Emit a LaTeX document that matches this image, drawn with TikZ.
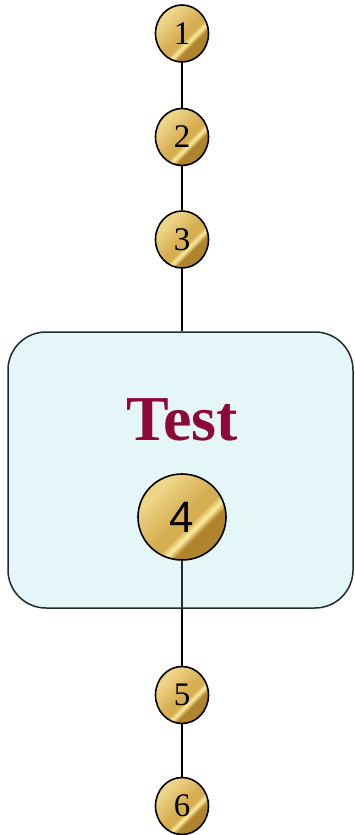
\documentclass[tikz,border=0pt]{standalone}
\usepackage{fontspec}
\setmainfont{Liberation Serif}
\newfontfamily\coinsans{Liberation Sans}
\usepackage{tikz}
\usetikzlibrary{shapes.geometric}
\definecolor{goldlight}{RGB}{238,212,135}
\definecolor{goldmid}{RGB}{214,174,82}
\definecolor{goldhi}{RGB}{252,236,160}
\definecolor{golddark}{RGB}{176,132,44}
\definecolor{testfill}{RGB}{228,246,248}
\definecolor{testedge}{RGB}{30,45,45}
\definecolor{testred}{RGB}{140,10,55}
\pgfdeclarehorizontalshading{goldcoin}{100bp}{color(0bp)=(goldlight); color(30bp)=(goldlight); color(50bp)=(goldmid); color(56bp)=(goldmid); color(60bp)=(goldhi); color(64bp)=(golddark); color(100bp)=(golddark)}
\tikzstyle{coin} = [ellipse, minimum width=53pt, minimum height=57pt, inner sep=0pt, draw=black, line width=1.6pt, shading=goldcoin, shading angle=-45, font=\fontsize{33}{33}\selectfont]
\tikzstyle{bigcoin} = [coin, minimum width=88pt, minimum height=86pt, font=\coinsans\fontsize{44}{44}\selectfont]
\tikzstyle{testbox} = [rectangle, rounded corners=38pt, minimum width=345pt, minimum height=276pt, draw=testedge, line width=1.5pt, fill=testfill]
\tikzstyle{link} = [line width=2pt, black]

\begin{document}
\begin{tikzpicture}[x=1pt,y=-1pt]
\useasboundingbox (0,0) rectangle (354,835);

\node (test) [testbox] at (180.5,470) {};
\node (title) at (182,420) {\fontsize{64}{64}\selectfont\bfseries\color{testred}Test};

\node (n1) [coin] at (182,33.5) {1};
\node (n2) [coin] at (182,137) {2};
\node (n3) [coin] at (182,239.5) {3};
\node (n4) [bigcoin] at (182,517) {4};
\node (n5) [coin] at (182,695) {5};
\node (n6) [coin] at (182,806) {6};

\draw [link] (n1) -- (n2);
\draw [link] (n2) -- (n3);
\draw [link] (n3) -- (test.north -| n3);
\draw [line width=1.3pt, testedge] (n4) -- (test.south -| n4);
\draw [link] (test.south -| n4) -- (n5);
\draw [link] (n5) -- (n6);

\end{tikzpicture}
\end{document}
